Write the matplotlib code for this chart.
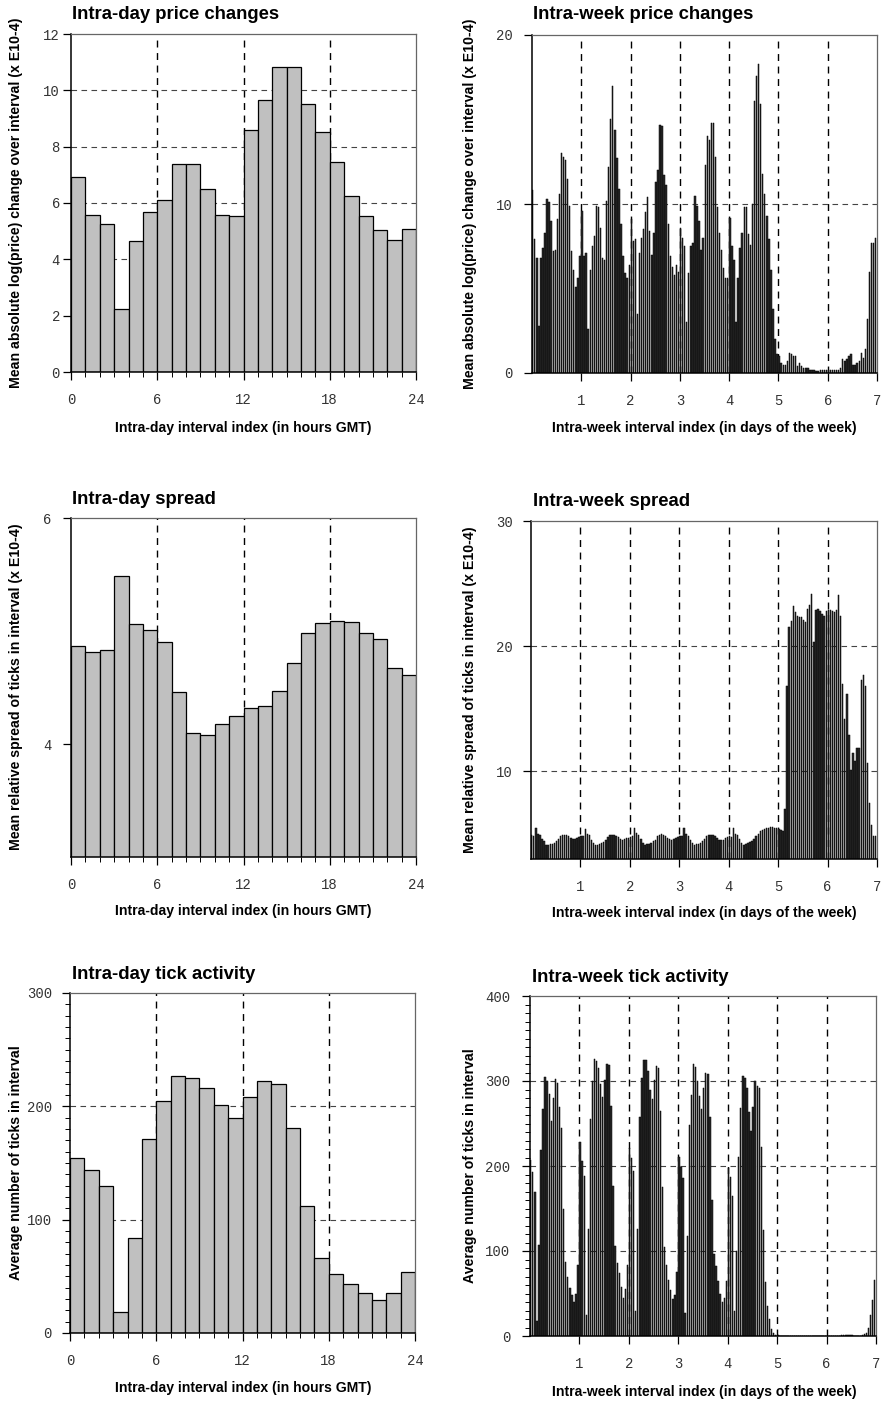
import numpy as np
import matplotlib
matplotlib.use("Agg")
import matplotlib.pyplot as plt
from matplotlib.ticker import MultipleLocator

# ---------------- data ----------------
hours = list(range(24))

day_price = [6.93, 5.59, 5.25, 2.23, 4.65, 5.68, 6.09, 7.40, 7.37, 6.48, 5.59, 5.55,
             8.58, 9.64, 10.82, 10.82, 9.52, 8.52, 7.45, 6.25, 5.55, 5.05, 4.67, 5.06]
day_spread = [4.87, 4.81, 4.83, 5.49, 5.06, 5.01, 4.90, 4.46, 4.10, 4.08, 4.18, 4.25,
              4.32, 4.34, 4.47, 4.72, 4.98, 5.07, 5.09, 5.08, 4.98, 4.93, 4.67, 4.61]
day_ticks = [154, 144, 130, 18.5, 84, 171, 205, 227, 225, 216, 201, 190,
             208, 222, 220, 181, 112, 66, 52, 43, 35, 29, 35, 54]

week_price = [
    [10.8, 7.9, 6.8, 2.8, 6.8, 7.4, 8.3, 10.3, 10.1, 9.0, 7.2, 7.3,
     9.1, 10.6, 13.0, 12.8, 12.6, 11.5, 9.9, 7.2, 6.1, 5.1, 5.6, 6.9],
    [9.6, 6.9, 7.1, 2.6, 6.1, 7.5, 8.1, 9.9, 9.8, 8.6, 6.8, 6.7,
     10.2, 12.2, 15.0, 17.0, 14.4, 12.7, 10.9, 8.8, 6.9, 5.9, 5.6, 6.4],
    [9.1, 7.8, 7.9, 3.5, 7.1, 8.0, 8.5, 9.5, 10.4, 8.4, 7.0, 8.3,
     11.3, 12.0, 14.7, 14.6, 11.7, 11.1, 8.8, 6.9, 6.3, 5.8, 6.4, 6.0],
    [8.6, 8.0, 7.5, 3.0, 5.9, 7.5, 7.7, 10.5, 9.9, 9.0, 7.3, 8.0,
     12.3, 14.0, 13.8, 14.8, 14.8, 12.8, 9.8, 8.3, 7.3, 6.2, 5.6, 5.6],
    [9.2, 7.5, 6.7, 3.0, 5.6, 7.4, 8.3, 9.8, 9.8, 8.2, 7.6, 10.0,
     16.1, 17.6, 18.3, 15.9, 11.8, 10.6, 9.3, 7.9, 6.1, 3.8, 2.0, 1.1],
    [1.0, 0.6, 0.5, 0.5, 0.7, 1.2, 1.1, 1.0, 1.0, 0.4, 0.6, 0.4,
     0.3, 0.3, 0.3, 0.2, 0.2, 0.2, 0.1, 0.1, 0.2, 0.2, 0.2, 0.2],
    [0.2, 0.2, 0.2, 0.2, 0.2, 0.2, 0.3, 0.8, 0.7, 0.8, 1.0, 1.1,
     0.5, 0.5, 0.6, 0.7, 1.2, 0.9, 1.4, 3.2, 6.0, 7.7, 7.7, 8.0],
]

week_spread = [
    [4.95, 4.85, 5.45, 5.0, 4.95, 4.6, 4.4, 4.15, 4.15, 4.2, 4.2, 4.3,
     4.4, 4.6, 4.85, 4.95, 4.95, 4.9, 4.8, 4.7, 4.6, 4.6, 4.7, 4.75],
    [4.8, 4.85, 5.4, 5.0, 4.9, 4.55, 4.3, 4.1, 4.15, 4.2, 4.25, 4.35,
     4.5, 4.75, 4.9, 4.95, 4.9, 4.85, 4.75, 4.6, 4.55, 4.6, 4.65, 4.7],
    [4.75, 4.8, 5.5, 5.05, 4.9, 4.6, 4.3, 4.15, 4.2, 4.2, 4.25, 4.4,
     4.55, 4.8, 4.95, 5.0, 4.9, 4.8, 4.7, 4.6, 4.55, 4.6, 4.7, 4.75],
    [4.8, 4.85, 5.45, 5.0, 4.85, 4.55, 4.25, 4.15, 4.2, 4.2, 4.3, 4.4,
     4.6, 4.85, 4.95, 4.95, 4.9, 4.8, 4.7, 4.55, 4.5, 4.55, 4.65, 4.75],
    [4.8, 4.75, 5.45, 5.0, 4.9, 4.6, 4.3, 4.15, 4.2, 4.25, 4.35, 4.45,
     4.6, 4.8, 5.0, 5.2, 5.3, 5.4, 5.5, 5.5, 5.55, 5.55, 5.5, 5.45],
    [5.4, 5.3, 5.2, 7.0, 16.8, 21.5, 22.0, 23.2, 22.7, 22.4, 22.3, 22.3,
     22.1, 21.9, 23.0, 23.3, 24.2, 20.3, 22.9, 23.0, 22.8, 22.6, 22.4, 22.8],
    [22.9, 22.9, 22.8, 22.7, 22.9, 24.1, 22.4, 17.0, 14.2, 16.2, 12.9, 10.1,
     11.5, 10.8, 11.9, 11.9, 17.3, 17.7, 16.8, 10.7, 7.5, 5.7, 4.8, 4.8],
]

week_ticks = [
    [207, 193, 170, 18, 107, 219, 267, 305, 300, 285, 253, 280,
     302, 298, 270, 245, 150, 87, 70, 57, 48, 40, 50, 84],
    [228, 206, 188, 25, 126, 255, 300, 326, 324, 315, 297, 281,
     301, 320, 319, 271, 177, 106, 86, 74, 58, 45, 55, 84],
    [221, 210, 194, 30, 126, 258, 303, 325, 325, 312, 289, 279,
     301, 318, 315, 265, 175, 105, 83, 66, 54, 44, 48, 75],
    [211, 199, 186, 27, 118, 248, 283, 320, 316, 300, 282, 267,
     292, 310, 308, 258, 160, 97, 82, 65, 50, 40, 45, 65],
    [198, 187, 165, 30, 100, 211, 268, 306, 303, 292, 263, 241,
     270, 300, 294, 292, 222, 125, 63, 35, 20, 8, 3, 1],
    [1.0, 0.5, 0.5, 0.5, 0.5, 0.5, 0.3, 0.3, 0.3, 0.2, 0.2, 0.2,
     0.2, 0.2, 0.2, 0.2, 0.2, 0.2, 0.2, 0.2, 0.2, 0.2, 0.2, 0.2],
    [0.2, 0.2, 0.2, 0.2, 0.2, 0.2, 0.2, 1.0, 1.2, 1.5, 1.2, 1.0,
     0.8, 0.5, 0.5, 0.5, 0.5, 1.0, 2.0, 4.0, 10, 25, 42, 66],
]

day_xticks = [0, 6, 12, 18, 24]
week_xticks = [1, 2, 3, 4, 5, 6, 7]

titles = ["Intra-day price changes", "Intra-week price changes",
          "Intra-day spread", "Intra-week spread",
          "Intra-day tick activity", "Intra-week tick activity"]
ylabels = ["Mean absolute log(price) change over interval (x E10-4)",
           "Mean relative spread of ticks in interval (x E10-4)",
           "Average number of ticks in interval"]
xlabel_day = "Intra-day interval index (in hours GMT)"
xlabel_week = "Intra-week interval index (in days of the week)"

# ---------------- layout ----------------
W, H = 882, 1402
fig = plt.figure(figsize=(W / 100, H / 100), dpi=100)
fig.patch.set_facecolor("white")

BOLD = dict(family=["Liberation Sans", "DejaVu Sans"], weight="bold")
MONO = ["Liberation Mono", "DejaVu Sans Mono"]


def add_ax(left, top, right, bottom):
    return fig.add_axes([left / W, 1 - bottom / H, (right - left) / W, (bottom - top) / H])


def style(ax, ylim, yticks, xlim, xticks, yminor=None, xminor=None, ypad=3):
    ax.set_xlim(*xlim)
    ax.set_ylim(*ylim)
    ax.set_xticks(xticks)
    ax.set_yticks(yticks)
    if xminor:
        ax.xaxis.set_minor_locator(MultipleLocator(xminor))
    if yminor:
        ax.yaxis.set_minor_locator(MultipleLocator(yminor))
    ax.tick_params(axis="both", which="major", direction="out", length=6, width=0.9,
                   labelsize=10, labelcolor="#333333", color="black")
    ax.tick_params(axis="both", which="minor", direction="out", length=3.5, width=0.7,
                   color="black")
    ax.tick_params(axis="x", which="major", pad=9)
    ax.tick_params(axis="y", which="major", pad=ypad)
    for lab in ax.get_xticklabels() + ax.get_yticklabels():
        lab.set_family(MONO)
    for s in ("left", "bottom"):
        ax.spines[s].set_color("black")
        ax.spines[s].set_linewidth(1.1)
    for s in ("top", "right"):
        ax.spines[s].set_color("#666666")
        ax.spines[s].set_linewidth(0.9)
    ax.set_axisbelow(True)


def grid(ax, xs, ys):
    for x in xs:
        ax.axvline(x, color="black", lw=1.0, dashes=(5, 4), zorder=0.5)
    for y in ys:
        ax.axhline(y, color="#444444", lw=0.8, dashes=(5, 4), zorder=0.5)


def day_bars(ax, vals):
    ax.bar(hours, vals, width=1.0, align="edge", color="#c0c0c0",
           edgecolor="black", linewidth=0.9, zorder=2)


def week_bars(ax, days):
    vals = [v for d in days for v in d]
    x = np.arange(len(vals)) / 24.0
    ax.bar(x, vals, width=0.68 / 24, align="edge", color="#2a2a2a",
           edgecolor="#000000", linewidth=0.35, zorder=2)


def title(text, x, y):
    fig.text(x / W, 1 - y / H, text, fontsize=13.3, ha="left", va="baseline", **BOLD)


def ylab(text, x, ycen):
    fig.text(x / W, 1 - ycen / H, text, fontsize=10.2, rotation=90,
             ha="center", va="center", **BOLD)


def xlab(text, xcen, y):
    fig.text(xcen / W, 1 - y / H, text, fontsize=10.1, ha="center", va="center", **BOLD)


# Top-left
ax = add_ax(71, 34, 416, 372)
day_bars(ax, day_price)
style(ax, (0, 12), [0, 2, 4, 6, 8, 10, 12], (0, 24), day_xticks, xminor=1, ypad=2)
grid(ax, [6, 12, 18], [2, 4, 6, 8, 10])
title(titles[0], 72, 19)
ylab(ylabels[0], 16, 203)
xlab(xlabel_day, 243, 428)

# Top-right
ax = add_ax(532, 35, 877, 373)
week_bars(ax, week_price)
style(ax, (0, 20), [0, 10, 20], (0, 7), week_xticks, ypad=8)
grid(ax, [1, 2, 3, 4, 5, 6], [10])
title(titles[1], 533, 19)
ylab(ylabels[0], 470, 204)
xlab(xlabel_week, 704, 428)

# Middle-left
ax = add_ax(71, 518, 416, 857)
day_bars(ax, day_spread)
style(ax, (3, 6), [4, 6], (0, 24), day_xticks, xminor=1, ypad=8)
grid(ax, [6, 12, 18], [4])
title(titles[2], 72, 504)
ylab(ylabels[1], 16, 687)
xlab(xlabel_day, 243, 911)

# Middle-right
ax = add_ax(531, 521, 877, 859)
week_bars(ax, week_spread)
style(ax, (3, 30), [10, 20, 30], (0, 7), week_xticks, ypad=7)
grid(ax, [1, 2, 3, 4, 5, 6], [10, 20])
title(titles[3], 533, 506)
ylab(ylabels[1], 470, 690)
xlab(xlabel_week, 704, 913)

# Bottom-left
ax = add_ax(70, 993, 415, 1333)
day_bars(ax, day_ticks)
style(ax, (0, 300), [0, 100, 200, 300], (0, 24), day_xticks, yminor=10, xminor=1, ypad=7)
grid(ax, [6, 12, 18], [100, 200])
title(titles[4], 72, 979)
ylab(ylabels[2], 16, 1163)
xlab(xlabel_day, 243, 1388)

# Bottom-right
ax = add_ax(530, 996, 876, 1336)
week_bars(ax, week_ticks)
style(ax, (0, 400), [0, 100, 200, 300, 400], (0, 7), week_xticks, yminor=10, ypad=8)
grid(ax, [1, 2, 3, 4, 5, 6], [100, 200, 300])
title(titles[5], 532, 982)
ylab(ylabels[2], 470, 1166)
xlab(xlabel_week, 704, 1392)

fig.savefig("out.png", dpi=100, facecolor="white")
